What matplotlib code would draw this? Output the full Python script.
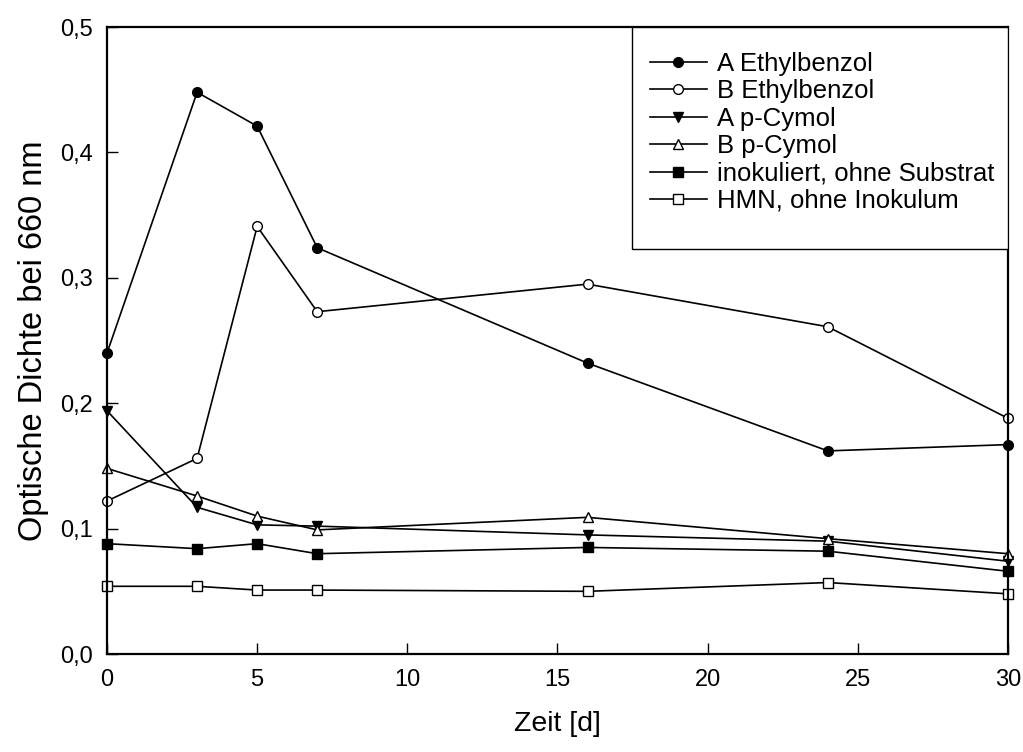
import matplotlib
matplotlib.use('Agg')
import matplotlib.pyplot as plt
from matplotlib.patches import Rectangle
from matplotlib.ticker import FuncFormatter

plt.rcParams['font.family'] = ['Liberation Sans', 'DejaVu Sans']

tage = [0, 3, 5, 7, 16, 24, 30]
a_ethyl = [0.240, 0.448, 0.421, 0.324, 0.232, 0.162, 0.167]
b_ethyl = [0.122, 0.156, 0.341, 0.273, 0.295, 0.261, 0.188]
a_cymol = [0.194, 0.117, 0.103, 0.102, 0.095, 0.090, 0.074]
b_cymol = [0.148, 0.126, 0.110, 0.099, 0.109, 0.092, 0.080]
inokuliert = [0.088, 0.084, 0.088, 0.080, 0.085, 0.082, 0.066]
hmn = [0.054, 0.054, 0.051, 0.051, 0.050, 0.057, 0.048]

fig = plt.figure(figsize=(10.23, 7.52), dpi=100)
ax = fig.add_axes([0.1046, 0.1303, 0.8807, 0.8337])

stil = dict(color='black', lw=1.2, ms=7, mec='black', mew=1.0, clip_on=False)
ax.plot(tage, a_ethyl, marker='o', mfc='black', label='A Ethylbenzol', **stil)
ax.plot(tage, b_ethyl, marker='o', mfc='white', label='B Ethylbenzol', **stil)
ax.plot(tage, a_cymol, marker='v', mfc='black', label='A p-Cymol', **stil)
ax.plot(tage, b_cymol, marker='^', mfc='white', label='B p-Cymol', **stil)
ax.plot(tage, inokuliert, marker='s', mfc='black', label='inokuliert, ohne Substrat', **stil)
ax.plot(tage, hmn, marker='s', mfc='white', label='HMN, ohne Inokulum', **stil)

ax.set_xlim(0, 30)
ax.set_ylim(0, 0.5)
ax.set_xticks(range(0, 31, 5))
ax.set_yticks([0, 0.1, 0.2, 0.3, 0.4, 0.5])
ax.yaxis.set_major_formatter(FuncFormatter(lambda v, p: ('%.1f' % v).replace('.', ',')))
ax.tick_params(direction='in', length=8, width=1.0, labelsize=17)
ax.tick_params(axis='x', pad=11)
ax.tick_params(axis='y', pad=10)
for s in ax.spines.values():
    s.set_linewidth(1.6)

ax.set_xlabel('Zeit [d]', fontsize=20.5, labelpad=14)
ax.set_ylabel('Optische Dichte bei 660 nm', fontsize=23.5, labelpad=8)

# Legendenrahmen wie im Original (unten mehr Platz)
ax.add_patch(Rectangle((0.583, 0.646), 0.417, 0.354, transform=ax.transAxes,
                       facecolor='white', edgecolor='black', lw=1.0, zorder=4))
leg = ax.legend(loc='upper left', bbox_to_anchor=(0.6027, 0.9600), fontsize=18.5,
                frameon=False, borderpad=0, handlelength=2.2, handletextpad=0.4,
                labelspacing=0.13, markerscale=1.0, borderaxespad=0)
leg.set_zorder(5)

fig.savefig('out.png', dpi=100)
